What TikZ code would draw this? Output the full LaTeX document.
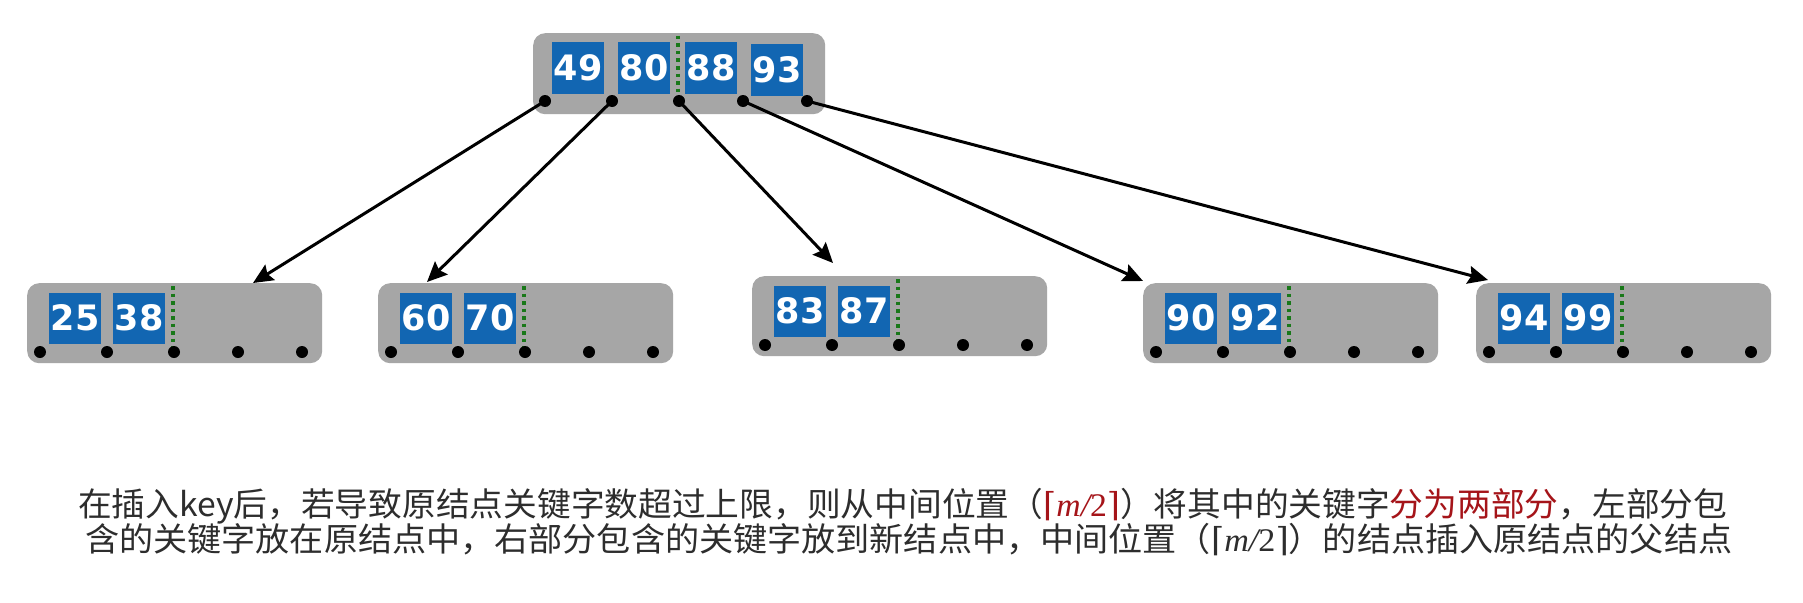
\documentclass[tikz,border=0pt]{standalone}
\usepackage{graphicx}
\usepackage{fontspec}
\newfontfamily\cjk{Noto Sans CJK SC}
\newfontfamily\keyfont{DejaVu Sans}
\newfontfamily\serifit{Liberation Serif}
\newfontfamily\brk{DejaVu Serif}
\usetikzlibrary{arrows.meta}
\definecolor{nodegray}{RGB}{166,166,166}
\definecolor{keyblue}{RGB}{18,102,178}
\definecolor{dotgreen}{RGB}{25,120,25}
\definecolor{txtred}{RGB}{165,20,25}
\definecolor{txtgray}{RGB}{45,45,45}
\newcommand\halfm{{\brk\char"2308}{\serifit\itshape m/}{\serifit 2}{\brk\char"2309}}
\newcommand\leafnode[5]{%
  \node[bbox, minimum width=295pt, minimum height=80pt, anchor=north west] (#1) at (#2,#3) {};
  \node[keybox] (#1k1) at ({#2+48},{#3+35}) {#4};
  \node[keybox] (#1k2) at ({#2+112},{#3+35}) {#5};
  \draw[sep] ({#2+146},{#3+3}) -- ({#2+146},{#3+64});
  \foreach \i/\dx in {1/13,2/80,3/147,4/211,5/275}
    \node[ptr] (#1p\i) at ({#2+\dx},{#3+69}) {};
}
\begin{document}
\begin{tikzpicture}[x=1pt,y=-1pt,
  bbox/.style={fill=nodegray, rounded corners=12pt, inner sep=0pt},
  keybox/.style={fill=keyblue, text=white, font=\keyfont\bfseries\fontsize{35}{35}\selectfont, minimum width=52pt, minimum height=51pt, inner sep=0pt},
  ptr/.style={circle, fill=black, minimum size=12pt, inner sep=0pt},
  sep/.style={dotgreen, line width=3.5pt, dash pattern=on 3.5pt off 4pt},
  link/.style={line width=3pt, -{Stealth[length=20pt,width=18pt,inset=3pt]}},
  txt/.style={anchor=west, inner sep=0pt, text=txtgray, font=\cjk\fontsize{33}{33}\selectfont}]
\fill[white] (0,0) rectangle (1803,602);
\useasboundingbox (0,0) rectangle (1803,602);
% top node
\node[bbox, minimum width=292pt, minimum height=81pt, anchor=north west] (top) at (533,33) {};
\node[keybox] (tk1) at (578,68) {49};
\node[keybox] (tk2) at (644,68) {80};
\node[keybox] (tk3) at (711,68) {88};
\node[keybox] (tk4) at (777,70) {93};
\draw[sep] (678,36) -- (678,96);
\foreach \i/\x in {1/545,2/612,3/679,4/743,5/807}
  \node[ptr] (tp\i) at (\x,101) {};
% leaf nodes
\leafnode{la}{27}{283}{25}{38}
\leafnode{lb}{378}{283}{60}{70}
\leafnode{lc}{752}{276}{83}{87}
\leafnode{ld}{1143}{283}{90}{92}
\leafnode{le}{1476}{283}{94}{99}
% arrow ends
\coordinate (ea) at (253,283);
\coordinate (eb) at (427,282);
\coordinate (ec) at (833,263);
\coordinate (ed) at (1143,281);
\coordinate (ee) at (1488,280);
\draw[link] (tp1.center) -- (ea);
\draw[link] (tp2.center) -- (eb);
\draw[link] (tp3.center) -- (ec);
\draw[link] (tp4.center) -- (ed);
\draw[link] (tp5.center) -- (ee);
% text
\node[txt] (line1) at (78,506) {\resizebox{1649pt}{\height}{在插入key后，若导致原结点关键字数超过上限，则从中间位置（\textcolor{txtred}{\halfm}）将其中的关键字\textcolor{txtred}{分为两部分}，左部分包}};
\node[txt] (line2) at (85,540) {\resizebox{1647pt}{\height}{含的关键字放在原结点中，右部分包含的关键字放到新结点中，中间位置（\halfm）的结点插入原结点的父结点}};
\end{tikzpicture}
\end{document}
